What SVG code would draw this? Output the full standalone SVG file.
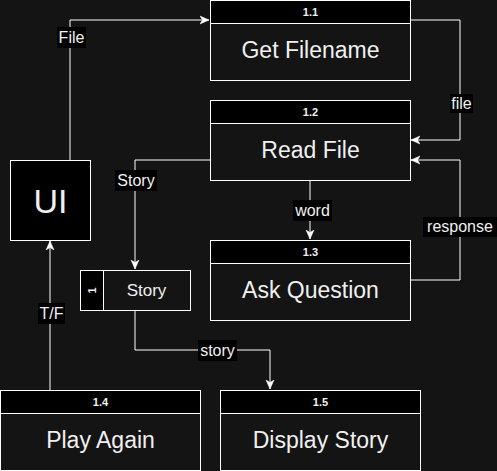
<svg xmlns="http://www.w3.org/2000/svg" width="497" height="471" viewBox="0 0 497 471">
<defs>
<style>
.box{fill:#141414;stroke:#ffffff;stroke-width:1}
.hdr{fill:#000000;stroke:#ffffff;stroke-width:1}
.ht{font-family:"Liberation Sans",Arial,sans-serif;font-size:11px;font-weight:bold;fill:#f0f0f0;text-anchor:middle}
.mt{font-family:"Liberation Sans",Arial,sans-serif;font-size:23px;fill:#f0f0f0;text-anchor:middle}
.lbl{font-family:"Liberation Sans",Arial,sans-serif;font-size:16px;fill:#f0f0f0;text-anchor:middle}
.lbg{fill:#000000}
.edge{fill:none;stroke:#ffffff;stroke-width:1}
</style>
<marker id="arr" markerWidth="10" markerHeight="10" refX="9" refY="5" orient="auto" markerUnits="userSpaceOnUse" viewBox="0 0 10 10">
<path d="M0,1 L9,5 L0,9 L2.5,5 z" fill="#ffffff" stroke="#ffffff" stroke-width="0.5"/>
</marker>
</defs>
<rect width="497" height="471" fill="#141414"/>

<g id="connectors">
<path class="edge" d="M70,160 V20 H209" marker-end="url(#arr)"/>
<path class="edge" d="M410,20 H460 V140 H411" marker-end="url(#arr)"/>
<path class="edge" d="M310,180 V239" marker-end="url(#arr)"/>
<path class="edge" d="M410,280 H460 V160 H411" marker-end="url(#arr)"/>
<path class="edge" d="M210,160 H135 V269" marker-end="url(#arr)"/>
<path class="edge" d="M135,310 V350 H270 V389" marker-end="url(#arr)"/>
<path class="edge" d="M50,390 V241" marker-end="url(#arr)"/>
<rect class="lbg" x="57" y="27" width="29" height="21"/>
<text class="lbl" x="71.5" y="43">File</text>
<rect class="lbg" x="450" y="94" width="23" height="19"/>
<text class="lbl" x="461.5" y="109">file</text>
<rect class="lbg" x="293" y="200" width="39" height="21"/>
<text class="lbl" x="312.5" y="216">word</text>
<rect class="lbg" x="423" y="217" width="74" height="20"/>
<text class="lbl" x="460" y="232">response</text>
<rect class="lbg" x="115" y="170" width="42" height="21"/>
<text class="lbl" x="136" y="186">Story</text>
<rect class="lbg" x="198" y="340" width="39" height="21"/>
<text class="lbl" x="217.5" y="356">story</text>
<rect class="lbg" x="38" y="303" width="27" height="21"/>
<text class="lbl" x="51.5" y="319">T/F</text>
</g>

<g id="node-1-1">
<rect class="box" x="210.5" y="0.5" width="200" height="80"/>
<rect class="hdr" x="210.5" y="0.5" width="200" height="23"/>
<text class="ht" x="310.5" y="16">1.1</text>
<text class="mt" x="310.5" y="58">Get Filename</text>
</g>

<g id="node-1-2">
<rect class="box" x="210.5" y="100.5" width="200" height="80"/>
<rect class="hdr" x="210.5" y="100.5" width="200" height="23"/>
<text class="ht" x="310.5" y="116">1.2</text>
<text class="mt" x="310.5" y="158">Read File</text>
</g>

<g id="node-1-3">
<rect class="box" x="210.5" y="240.5" width="200" height="80"/>
<rect class="hdr" x="210.5" y="240.5" width="200" height="23"/>
<text class="ht" x="310.5" y="256">1.3</text>
<text class="mt" x="310.5" y="298">Ask Question</text>
</g>

<g id="node-ui">
<rect x="10.5" y="160.5" width="80" height="80" fill="#000000" stroke="#ffffff" stroke-width="1"/>
<text x="50.5" y="213" font-family="Liberation Sans,Arial,sans-serif" font-size="34" fill="#f0f0f0" text-anchor="middle">UI</text>
</g>

<g id="node-story">
<rect class="box" x="80.5" y="270.5" width="110" height="40"/>
<rect class="hdr" x="80.5" y="270.5" width="23" height="40"/>
<text class="ht" transform="translate(92,290.5) rotate(-90)" x="0" y="4">1</text>
<text x="146.5" y="296" font-family="Liberation Sans,Arial,sans-serif" font-size="17" fill="#f0f0f0" text-anchor="middle">Story</text>
</g>

<g id="node-1-4">
<rect class="box" x="0.5" y="390.5" width="200" height="80"/>
<rect class="hdr" x="0.5" y="390.5" width="200" height="23"/>
<text class="ht" x="100.5" y="406">1.4</text>
<text class="mt" x="100.5" y="448">Play Again</text>
</g>

<g id="node-1-5">
<rect class="box" x="220.5" y="390.5" width="200" height="80"/>
<rect class="hdr" x="220.5" y="390.5" width="200" height="23"/>
<text class="ht" x="320.5" y="406">1.5</text>
<text class="mt" x="320.5" y="448">Display Story</text>
</g>
</svg>
